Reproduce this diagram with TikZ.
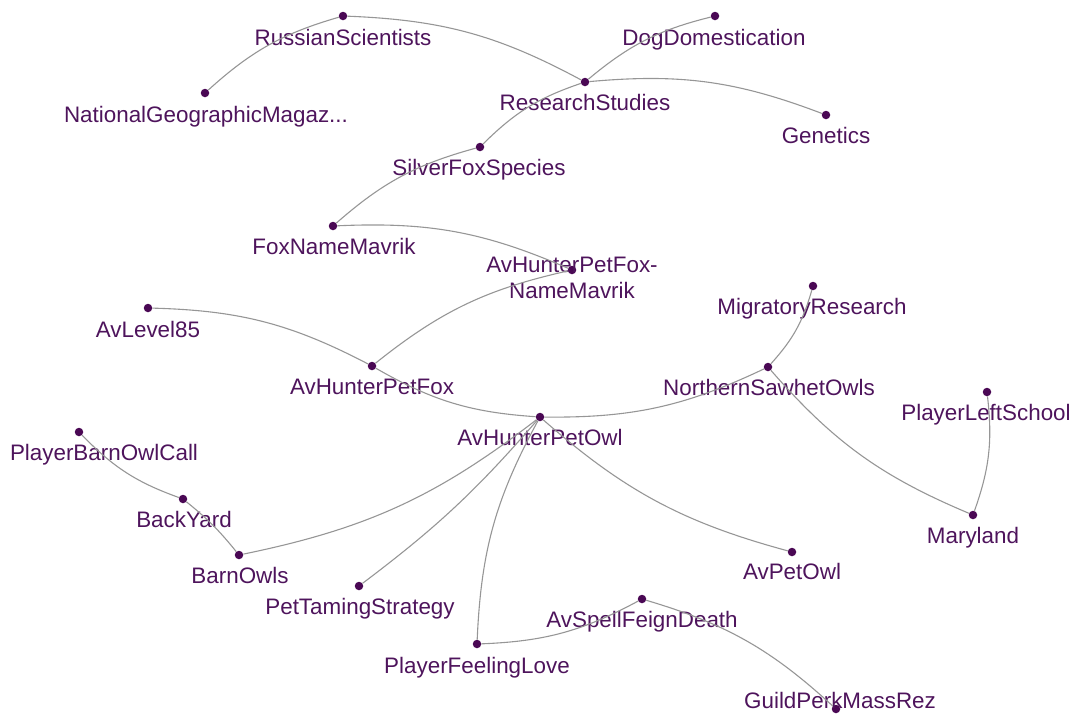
\documentclass[tikz,border=0pt]{standalone}
\usepackage{fontspec}
\setmainfont{Liberation Sans}
\definecolor{dotc}{RGB}{74,8,84}
\definecolor{txtc}{RGB}{78,20,92}
\definecolor{linkc}{RGB}{150,150,150}
\begin{document}
\begin{tikzpicture}[x=1pt,y=-1pt,
  dot/.style={circle,fill=dotc,inner sep=0pt,minimum size=8.5pt},
  lbl/.style={text=txtc,anchor=base,inner sep=0pt,font=\fontsize{22.4}{26}\selectfont,align=center},
  link/.style={draw=linkc,line width=1.1pt,bend left=13},
  flat/.style={bend left=6}]
\useasboundingbox (0,0) rectangle (1074,713);

% entity markers
\node[dot] (rs)   at (343,16)  {};
\node[dot] (ng)   at (205,93)  {};
\node[dot] (dog)  at (715,16)  {};
\node[dot] (rst)  at (585,82)  {};
\node[dot] (gen)  at (826,115) {};
\node[dot] (sf)   at (480,147) {};
\node[dot] (fnm)  at (333,226) {};
\node[dot] (hpfn) at (572,270) {};
\node[dot] (hpf)  at (372,366) {};
\node[dot] (lvl)  at (148,308) {};
\node[dot] (mr)   at (813,286) {};
\node[dot] (nso)  at (768,367) {};
\node[dot] (pls)  at (987,392) {};
\node[dot] (md)   at (973,515) {};
\node[dot] (apo)  at (792,552) {};
\node[dot] (hpo)  at (540,417) {};
\node[dot] (pboc) at (79,432)  {};
\node[dot] (by)   at (183,499) {};
\node[dot] (bo)   at (239,555) {};
\node[dot] (pts)  at (359,586) {};
\node[dot] (fd)   at (642,599) {};
\node[dot] (pfl)  at (477,644) {};
\node[dot] (gp)   at (836,709) {};

% entity names
\node[lbl] (rs-l)   at (343,45)  {RussianScientists};
\node[lbl] (ng-l)   at (206,122) {NationalGeographicMagaz...};
\node[lbl] (dog-l)  at (714,45)  {DogDomestication};
\node[lbl] (rst-l)  at (585,110) {ResearchStudies};
\node[lbl] (gen-l)  at (826,143) {Genetics};
\node[lbl] (sf-l)   at (479,175) {SilverFoxSpecies};
\node[lbl] (fnm-l)  at (334,254) {FoxNameMavrik};
\node[lbl] (hpfn-l) at (572,298) {AvHunterPetFox-\\NameMavrik};
\node[lbl] (hpf-l)  at (372,394) {AvHunterPetFox};
\node[lbl] (lvl-l)  at (148,337) {AvLevel85};
\node[lbl] (mr-l)   at (812,314) {MigratoryResearch};
\node[lbl] (nso-l)  at (769,395) {NorthernSawhetOwls};
\node[lbl] (pls-l)  at (986,420) {PlayerLeftSchool};
\node[lbl] (md-l)   at (973,543) {Maryland};
\node[lbl] (apo-l)  at (792,579) {AvPetOwl};
\node[lbl] (hpo-l)  at (540,445) {AvHunterPetOwl};
\node[lbl] (pboc-l) at (104,460) {PlayerBarnOwlCall};
\node[lbl] (by-l)   at (184,527) {BackYard};
\node[lbl] (bo-l)   at (240,583) {BarnOwls};
\node[lbl] (pts-l)  at (360,614) {PetTamingStrategy};
\node[lbl] (fd-l)   at (642,627) {AvSpellFeignDeath};
\node[lbl] (pfl-l)  at (477,673) {PlayerFeelingLove};
\node[lbl] (gp-l)   at (840,708) {GuildPerkMassRez};

% relations
\draw[link] (ng) to (rs);
\draw[link] (rs) to (rst);
\draw[link] (rst) to (dog);
\draw[link] (rst) to (gen);
\draw[link] (sf) to (rst);
\draw[link] (fnm) to (sf);
\draw[link] (fnm) to (hpfn);
\draw[link] (hpf) to (hpfn);
\draw[link] (lvl) to (hpf);
\draw[link] (hpo) to (hpf);
\draw[link] (nso) to (hpo);
\draw[link] (mr) to (nso);
\draw[link] (md) to (nso);
\draw[link] (pls) to (md);
\draw[link] (apo) to (hpo);
\draw[link] (hpo) to (bo);
\draw[link,flat] (hpo) to (pts);
\draw[link] (pfl) to (hpo);
\draw[link] (fd) to (pfl);
\draw[link] (fd) to (gp);
\draw[link,flat] (by) to (bo);
\draw[link] (by) to (pboc);
\end{tikzpicture}
\end{document}
